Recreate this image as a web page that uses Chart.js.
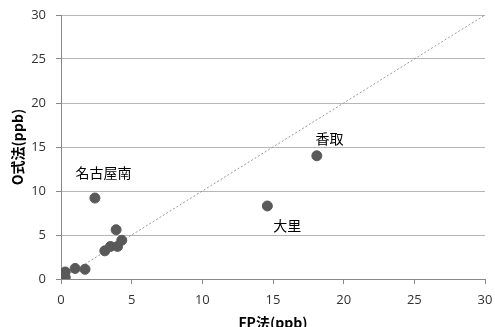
<!DOCTYPE html>
<html>
<head>
<meta charset="utf-8">
<script src="https://cdn.jsdelivr.net/npm/chart.js@4/dist/chart.umd.min.js"></script>
<style>
  html, body { margin: 0; padding: 0; background: #fff; }
  #wrap { width: 495px; height: 327px; }
</style>
</head>
<body>
<div id="wrap"><canvas id="scatter"></canvas></div>
<script>
const fpValues = [0.3, 0.3, 1.0, 1.7, 2.4, 3.1, 3.5, 3.9, 4.0, 4.3, 14.6, 18.1];
const oValues  = [0.2, 0.8, 1.2, 1.1, 9.2, 3.2, 3.7, 5.6, 3.7, 4.4, 8.3, 14.0];

// site names written next to some points
const siteNames = ['名古屋南', '香取', '大里'];
const siteX = [3.0, 19.0, 16.0];
const siteY = [12.1, 16.0, 6.1];

const lineX = [0, 30];
const lineY = [0, 30];
const axisTicks = [0, 5, 10, 15, 20, 25, 30];

const jpFont = '"Noto Sans CJK JP", "Open Sans", sans-serif';
const numFont = '"Open Sans", "Noto Sans", sans-serif';

// draws the site names at their data positions
const siteLabels = {
    id: 'siteLabels',
    afterDatasetsDraw(chart) {
        const ctx = chart.ctx;
        const xs = chart.scales.x, ys = chart.scales.y;
        ctx.save();
        ctx.fillStyle = '#000';
        ctx.font = '14px ' + jpFont;
        ctx.textAlign = 'center';
        ctx.textBaseline = 'middle';
        siteNames.forEach((name, i) => {
            ctx.fillText(name, xs.getPixelForValue(siteX[i]), ys.getPixelForValue(siteY[i]));
        });
        ctx.restore();
    }
};

new Chart(document.getElementById('scatter'), {
    type: 'scatter',
    data: {
        datasets: [
            {
                label: 'sites',
                data: fpValues.map((v, i) => ({ x: v, y: oValues[i] })),
                backgroundColor: '#595959',
                borderColor: '#595959',
                pointRadius: 5,
                order: 1
            },
            {
                type: 'line',
                label: '1:1',
                data: lineX.map((v, i) => ({ x: v, y: lineY[i] })),
                borderColor: '#999',
                borderWidth: 1,
                borderDash: [2, 2],
                pointRadius: 0,
                fill: false,
                order: 2
            }
        ]
    },
    options: {
        responsive: true,
        maintainAspectRatio: false,
        animation: false,
        layout: { padding: { top: 15, right: 10, left: 0, bottom: 0 } },
        plugins: { legend: { display: false }, tooltip: { enabled: false } },
        scales: {
            x: {
                type: 'linear',
                min: 0, max: 30,
                afterBuildTicks: s => { s.ticks = axisTicks.map(v => ({ value: v })); },
                afterFit: s => { s.height = 48; s.paddingLeft = 0; s.paddingRight = 0; },
                grid: { drawOnChartArea: false, color: '#888', tickLength: 5 },
                border: { color: '#888' },
                ticks: { color: '#333', font: { family: numFont, size: 13 }, padding: 8, maxRotation: 0 },
                title: {
                    display: true,
                    text: 'FP法(ppb)',
                    color: '#000',
                    font: { family: jpFont, size: 14, weight: 'bold' },
                    padding: { top: 0, bottom: -4 }
                }
            },
            y: {
                type: 'linear',
                min: 0, max: 30,
                afterBuildTicks: s => { s.ticks = axisTicks.map(v => ({ value: v })); },
                afterFit: s => { s.width = 61; s.paddingTop = 0; s.paddingBottom = 0; },
                grid: { color: '#b5b5b5', tickLength: 5, tickColor: '#888' },
                border: { color: '#888' },
                ticks: { color: '#333', font: { family: numFont, size: 13 }, padding: 10 },
                title: {
                    display: true,
                    text: 'O式法(ppb)',
                    color: '#000',
                    font: { family: jpFont, size: 14, weight: 'bold' },
                    padding: { top: 9, bottom: 0 }
                }
            }
        }
    },
    plugins: [siteLabels]
});
</script>
</body>
</html>
